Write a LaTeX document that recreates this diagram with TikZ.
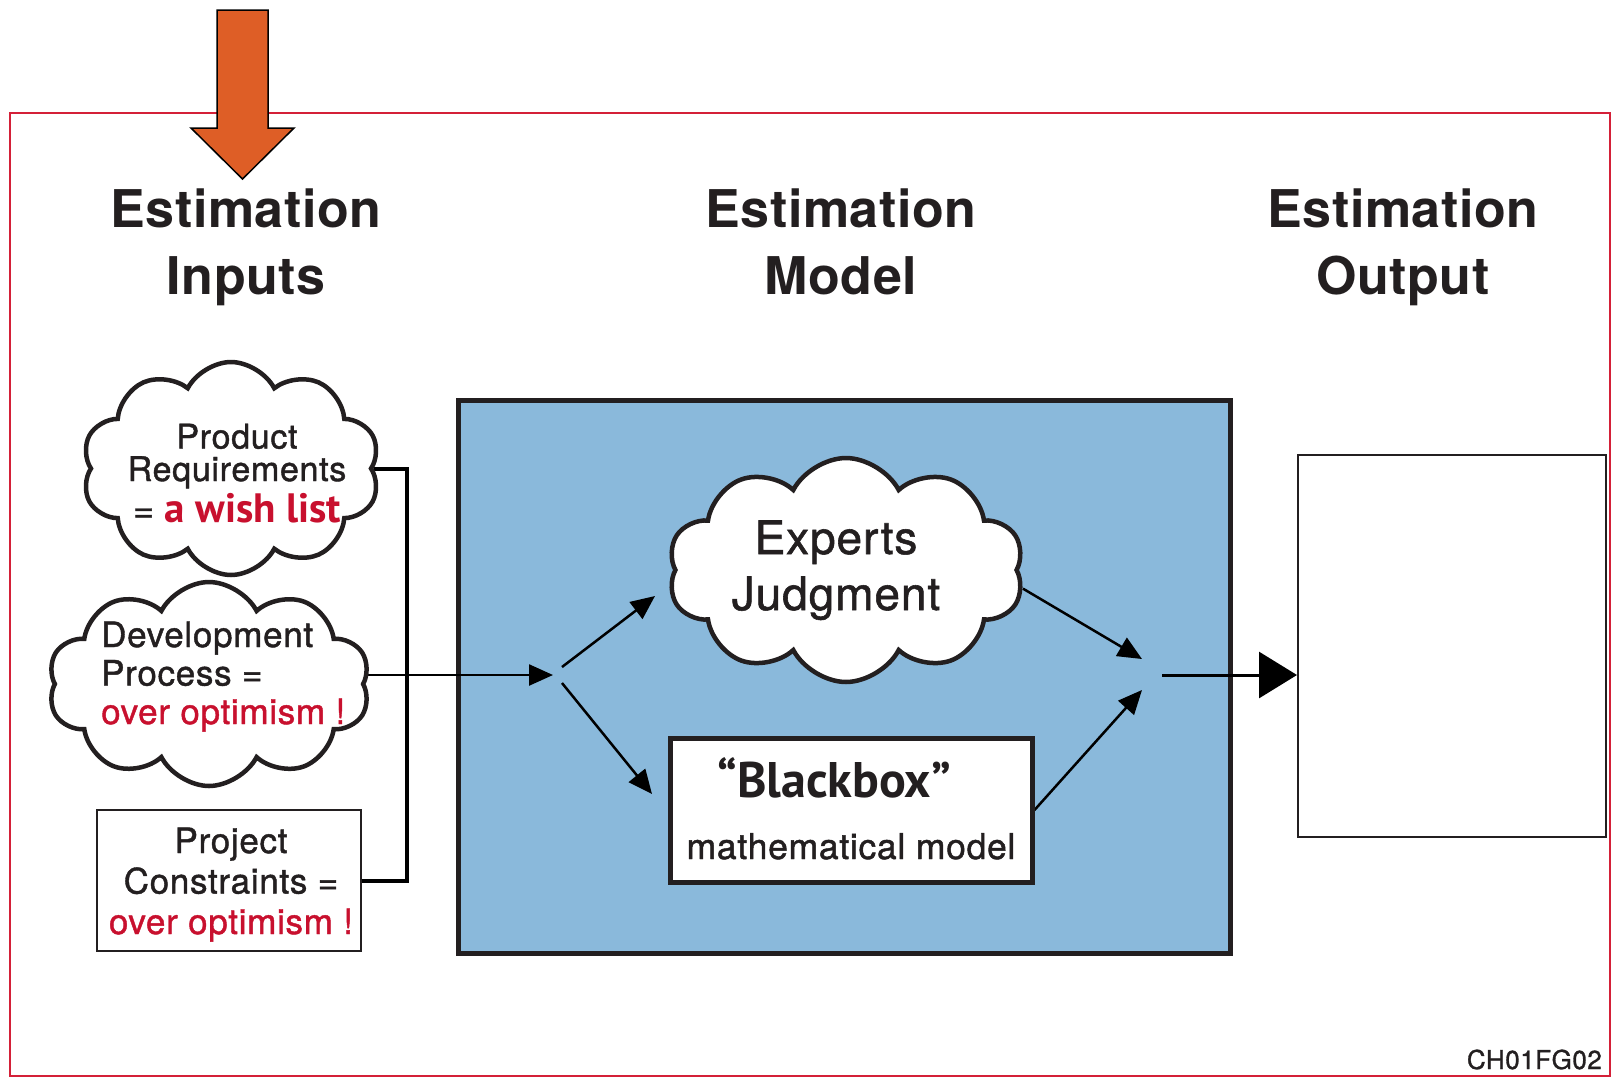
\documentclass[tikz,border=0pt]{standalone}
\usepackage{fontspec}
\setmainfont{TeX Gyre Heros}[LetterSpace=2,FakeBold=1.2]
\newfontfamily\headfont{TeX Gyre Heros Bold}[LetterSpace=1]
\newfontfamily\boldsans{PT Sans}
\usetikzlibrary{shapes.symbols,arrows.meta,calc}

\definecolor{inkblack}{HTML}{231F20}
\definecolor{alertred}{RGB}{200,16,46}
\definecolor{framered}{RGB}{212,32,56}
\definecolor{modelblue}{RGB}{138,185,219}
\definecolor{arroworange}{RGB}{222,94,38}

\pgfdeclarelayer{back}
\pgfdeclarelayer{links}
\pgfsetlayers{back,links,main}

% font size helper
\newcommand\fs[2]{\fontsize{#1}{#2}\selectfont}
% stacked lines with a fixed baseline distance (first baseline = box baseline)
\newcommand\linesc[2]{\vtop{\baselineskip=#1\relax\lineskiplimit=-\maxdimen\lineskip=0pt\halign{\hfil##\hfil\cr#2\crcr}}}
\newcommand\linesl[2]{\vtop{\baselineskip=#1\relax\lineskiplimit=-\maxdimen\lineskip=0pt\halign{##\hfil\cr#2\crcr}}}

\begin{document}
\begin{tikzpicture}[x=1pt,y=-1pt,color=inkblack,
  txt/.style={inner sep=0pt,anchor=base,text=inkblack},
  puff/.style={cloud,cloud puffs=10,cloud puff arc=125,cloud ignores aspect,
    draw=inkblack,fill=white,line width=4.5pt,inner sep=0pt},
  thinbox/.style={draw=inkblack,fill=white,line width=2pt,inner sep=0pt},
  thickbox/.style={draw=inkblack,fill=white,line width=5pt,inner sep=0pt},
  arr/.style={line width=2.5pt,-{Triangle[length=24pt,width=21pt]}},
  bigarr/.style={line width=3pt,-{Triangle[length=38pt,width=46pt]}},
  bracket/.style={line width=4pt,line join=miter}]

\useasboundingbox (0,0) rectangle (1612,1077);

% outer frame
\draw[framered,line width=2.5pt] (10,113) rectangle (1610,1076);

% orange pointer arrow
\draw[fill=arroworange,draw=black,line width=1.5pt,line join=miter]
  (217,10) -- (268,10) -- (268,128) -- (294,128) -- (242.5,179)
  -- (191,128) -- (217,128) -- cycle;

% column headings
\node[txt] (headin)  at (246,227)  {\headfont\fs{52}{67}\linesc{67pt}{Estimation\cr Inputs}};
\node[txt] (headmod) at (841,227)  {\headfont\fs{52}{67}\linesc{67pt}{Estimation\cr Model}};
\node[txt] (headout) at (1403,227) {\headfont\fs{52}{67}\linesc{67pt}{Estimation\cr Output}};

% input sources
\node[puff,minimum width=298pt,minimum height=213pt] (prodcloud) at (231,468.5) {};
\node[puff,minimum width=322pt,minimum height=204pt] (devcloud)  at (209,684) {};
\node[thinbox,minimum width=264pt,minimum height=141pt] (projbox) at (229,880.5) {};

\node[txt] (prodtxt) at (237,448.5) {\fs{34}{32.5}\linesc{32.5pt}{Product\cr Requirements\cr
  \noalign{\kern8.5pt}\fs{36}{32.5}= {\color{alertred}\boldsans\bfseries\fs{41}{41}a wish list}}};
\node[txt,anchor=base west] (devtxt) at (101,647)
  {\fs{35}{38.5}\linesl{38.5pt}{Development\cr Process =\cr{\color{alertred}over optimism !}}};
\node[txt] (projtxt) at (231,853)
  {\fs{35}{40.5}\linesc{40.5pt}{Project\cr Constraints =\cr{\color{alertred}over optimism !}}};

% estimation model
\begin{pgfonlayer}{back}
\node[draw=inkblack,fill=modelblue,line width=5pt,inner sep=0pt,
  minimum width=772pt,minimum height=553pt] (model) at (844,676.5) {};
\end{pgfonlayer}
\node[puff,minimum width=356pt,minimum height=224pt] (expcloud) at (846,570) {};
\node[txt] (exptxt) at (836,554) {\fs{46}{56}\linesc{56pt}{Experts\cr Judgment}};
\node[thickbox,minimum width=362pt,minimum height=144pt] (bb) at (851,810) {};
\node[txt] (bbtitle) at (834,797) {\boldsans\bfseries\fs{50}{50}“Blackbox”};
\node[txt] (bbsub) at (851,859) {\fs{35.5}{40}mathematical model};

% estimation output
\node[thinbox,minimum width=308pt,minimum height=382pt] (outbox) at (1452,646) {};

\node[anchor=base east,inner sep=0pt] (figid) at (1602,1069) {\fs{26}{26}CH01FG02};

% connector points
\coordinate (bracketbot) at (407,880.5);
\coordinate (splitin) at (553,675);
\coordinate (splitup) at (562,667);
\coordinate (splitdn) at (562,683);
\coordinate (expin) at (655,596);
\coordinate (bbin) at (652,794);
\coordinate (joinup) at (1142,659);
\coordinate (joindn) at (1142,690);
\coordinate (outstart) at (1162,675);

\begin{pgfonlayer}{links}
\draw[bracket] (prodcloud.east) -| (bracketbot) -- (projbox.east);
\draw[arr] (devcloud.east |- splitin) -- (splitin);
\draw[arr] (splitup) -- (expin);
\draw[arr] (splitdn) -- (bbin);
\draw[arr] (expcloud.-6) -- (joinup);
\draw[arr] (bb.east) -- (joindn);
\draw[bigarr] (outstart) -- (outbox.west |- outstart);
\end{pgfonlayer}
\end{tikzpicture}
\end{document}
